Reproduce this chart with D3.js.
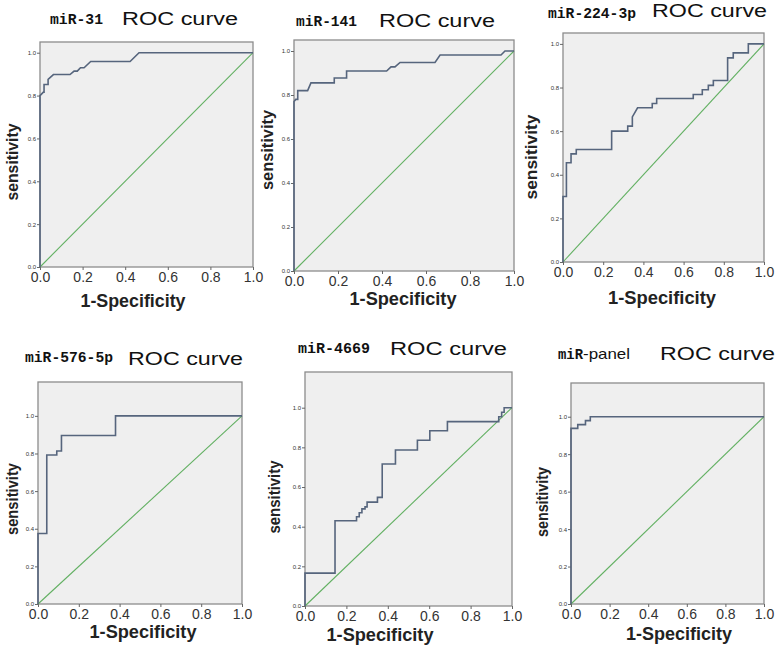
<!DOCTYPE html>
<html>
<head>
<meta charset="utf-8">
<script src="https://d3js.org/d3.v7.min.js"></script>
<style>
  body { margin: 0; background: #fff; }
  text { font-family: "Liberation Sans", Arial, sans-serif; }
</style>
</head>
<body>
<svg id="roc_fig"></svg>
<script>
var figwidth = 780,
    figheight = 657;

// ROC points (1-specificity, sensitivity)
var roc31 = [[0,0],[0,0.80],[0.016,0.816],[0.019,0.816],[0.019,0.852],[0.038,0.852],[0.038,0.876],
  [0.063,0.898],[0.141,0.898],[0.16,0.914],[0.175,0.914],[0.19,0.93],[0.207,0.93],[0.238,0.959],
  [0.423,0.959],[0.465,1],[1,1]];
var roc141 = [[0,0],[0,0.77],[0.008,0.78],[0.017,0.78],[0.017,0.82],[0.062,0.82],[0.077,0.855],
  [0.183,0.855],[0.183,0.877],[0.239,0.877],[0.239,0.909],[0.421,0.909],[0.441,0.928],[0.459,0.928],
  [0.482,0.948],[0.641,0.948],[0.664,0.982],[0.941,0.982],[0.959,1],[1,1]];
var roc224 = [[0,0],[0,0.30],[0.017,0.30],[0.017,0.455],[0.04,0.455],[0.04,0.496],[0.066,0.496],
  [0.066,0.516],[0.242,0.516],[0.242,0.60],[0.322,0.60],[0.322,0.623],[0.345,0.623],[0.345,0.665],
  [0.371,0.707],[0.444,0.707],[0.444,0.727],[0.466,0.727],[0.466,0.75],[0.648,0.75],[0.648,0.768],
  [0.693,0.768],[0.693,0.79],[0.723,0.79],[0.723,0.81],[0.748,0.81],[0.748,0.832],[0.819,0.832],
  [0.819,0.936],[0.847,0.936],[0.847,0.959],[0.922,0.959],[0.922,1],[1,1]];
var roc576 = [[0,0],[0,0.375],[0.043,0.375],[0.043,0.792],[0.092,0.792],[0.092,0.813],[0.115,0.813],
  [0.115,0.896],[0.38,0.896],[0.38,1],[1,1]];
var roc4669 = [[0,0],[0,0.166],[0.145,0.166],[0.145,0.43],[0.249,0.43],[0.249,0.45],[0.262,0.45],
  [0.262,0.47],[0.275,0.47],[0.275,0.49],[0.29,0.49],[0.29,0.50],[0.30,0.50],[0.30,0.524],[0.35,0.524],
  [0.35,0.548],[0.373,0.548],[0.373,0.716],[0.437,0.716],[0.437,0.787],[0.543,0.787],[0.543,0.836],
  [0.603,0.836],[0.603,0.884],[0.688,0.884],[0.688,0.93],[0.936,0.93],[0.936,0.954],[0.95,0.954],
  [0.95,0.977],[0.962,0.977],[0.962,1],[1,1]];
var rocPanel = [[0,0],[0,0.9375],[0.035,0.9375],[0.035,0.958],[0.075,0.958],[0.075,0.979],[0.1,0.979],
  [0.1,1],[1,1]];

var chanceLine = [[0,0],[1,1]];
var markerNames = ["miR-31", "miR-141", "miR-224-3p", "miR-576-5p", "miR-4669", "miR"];
var titleSuffix = ["", "", "", "", "", "-panel"];
var xTicks = [0, 0.2, 0.4, 0.6, 0.8, 1.0];
var yTicks = [0, 0.2, 0.4, 0.6, 0.8, 1.0];
var yMax = [1.05, 1.05, 1.05, 1.18, 1.18, 1.18];

// pixel layout of each panel
var layout = [
  {left:40,  right:253, bottom:267, top:42,  mono:[50,53,24],   suf:null,         roc:[122,116,25],  xlab:[133,307,105], ylab:[18,162,77]},
  {left:294, right:514, bottom:271, top:40,  mono:[296,61,26],  suf:null,         roc:[379,116,27],  xlab:[403,305,107], ylab:[273,150,80]},
  {left:563, right:764, bottom:262, top:33,  mono:[548,88,18],  suf:null,         roc:[652,115,17],  xlab:[662,304,108], ylab:[537,157,85]},
  {left:38,  right:242, bottom:604, top:382, mono:[25,88,362],  suf:null,         roc:[128,115,365], xlab:[143,638,107], ylab:[18,499,72]},
  {left:305, right:512, bottom:606, top:372, mono:[298,72,353], suf:null,         roc:[390,117,355], xlab:[380,641,107], ylab:[280,497,73]},
  {left:571, right:764, bottom:604, top:383, mono:[558,25,359], suf:[583,47,359], roc:[660,115,360], xlab:[679,640,106], ylab:[548,502,70]}
];
var curves = [roc31, roc141, roc224, roc576, roc4669, rocPanel];

var svg = d3.select("#roc_fig")
    .attr("width", figwidth)
    .attr("height", figheight);

curves.forEach(function(pts, i) {
  var L = layout[i];
  var x = d3.scaleLinear().domain([0, 1]).range([L.left, L.right]);
  var y = d3.scaleLinear().domain([0, yMax[i]]).range([L.bottom, L.top]);
  var g = svg.append("g");

  g.append("rect")
    .attr("x", x(0)).attr("y", y(yMax[i]))
    .attr("width", x(1) - x(0)).attr("height", y(0) - y(yMax[i]))
    .style("fill", "#efefef")
    .style("stroke", "#8c8c8c")
    .style("stroke-width", 1.3);

  var xAxis = d3.axisBottom(x).tickValues(xTicks).tickFormat(d3.format(".1f"))
      .tickSize(3).tickSizeOuter(0).tickPadding(2);
  var yAxis = d3.axisLeft(y).tickValues(yTicks).tickFormat(d3.format(".1f"))
      .tickSize(3).tickSizeOuter(0).tickPadding(1);

  var gx = g.append("g").attr("transform", "translate(0," + y(0) + ")").call(xAxis);
  gx.select(".domain").remove();
  gx.selectAll("line").style("stroke", "#666");
  gx.selectAll("text").style("font-size", "14px").style("fill", "#333")
    .style("font-family", "'Liberation Sans', Arial, sans-serif");

  var gy = g.append("g").attr("transform", "translate(" + x(0) + ",0)").call(yAxis);
  gy.select(".domain").remove();
  gy.selectAll("line").style("stroke", "#666");
  gy.selectAll("text").style("font-size", "6px").style("fill", "#333")
    .style("font-family", "'Liberation Sans', Arial, sans-serif");

  var line = d3.line().x(function(d) { return x(d[0]); }).y(function(d) { return y(d[1]); });

  g.append("path").datum(chanceLine)
    .attr("d", line)
    .style("fill", "none").style("stroke", "#62b062").style("stroke-width", 1.1);

  g.append("path").datum(pts)
    .attr("d", line)
    .style("fill", "none").style("stroke", "#56657d").style("stroke-width", 1.6);

  // titles
  g.append("text")
    .attr("x", L.mono[0]).attr("y", L.mono[2])
    .attr("textLength", L.mono[1]).attr("lengthAdjust", "spacingAndGlyphs")
    .style("font-family", "'Liberation Mono', 'Courier New', monospace")
    .style("font-weight", "bold").style("font-size", "14px").style("fill", "#111")
    .text(markerNames[i]);
  if (L.suf) {
    g.append("text")
      .attr("x", L.suf[0]).attr("y", L.suf[2])
      .attr("textLength", L.suf[1]).attr("lengthAdjust", "spacingAndGlyphs")
      .style("font-size", "15px").style("fill", "#111")
      .text(titleSuffix[i]);
  }
  g.append("text")
    .attr("x", L.roc[0]).attr("y", L.roc[2])
    .attr("textLength", L.roc[1]).attr("lengthAdjust", "spacingAndGlyphs")
    .style("font-size", "18px").style("fill", "#111")
    .text("ROC curve");

  g.append("text")
    .attr("x", L.xlab[0]).attr("y", L.xlab[1])
    .attr("text-anchor", "middle")
    .attr("textLength", L.xlab[2]).attr("lengthAdjust", "spacingAndGlyphs")
    .style("font-size", "19px").style("font-weight", "bold").style("fill", "#222")
    .text("1-Specificity");

  g.append("text")
    .attr("transform", "translate(" + L.ylab[0] + "," + L.ylab[1] + ") rotate(-90)")
    .attr("text-anchor", "middle")
    .attr("textLength", L.ylab[2]).attr("lengthAdjust", "spacingAndGlyphs")
    .style("font-size", "16px").style("font-weight", "bold").style("fill", "#222")
    .text("sensitivity");
});
</script>
</body>
</html>
